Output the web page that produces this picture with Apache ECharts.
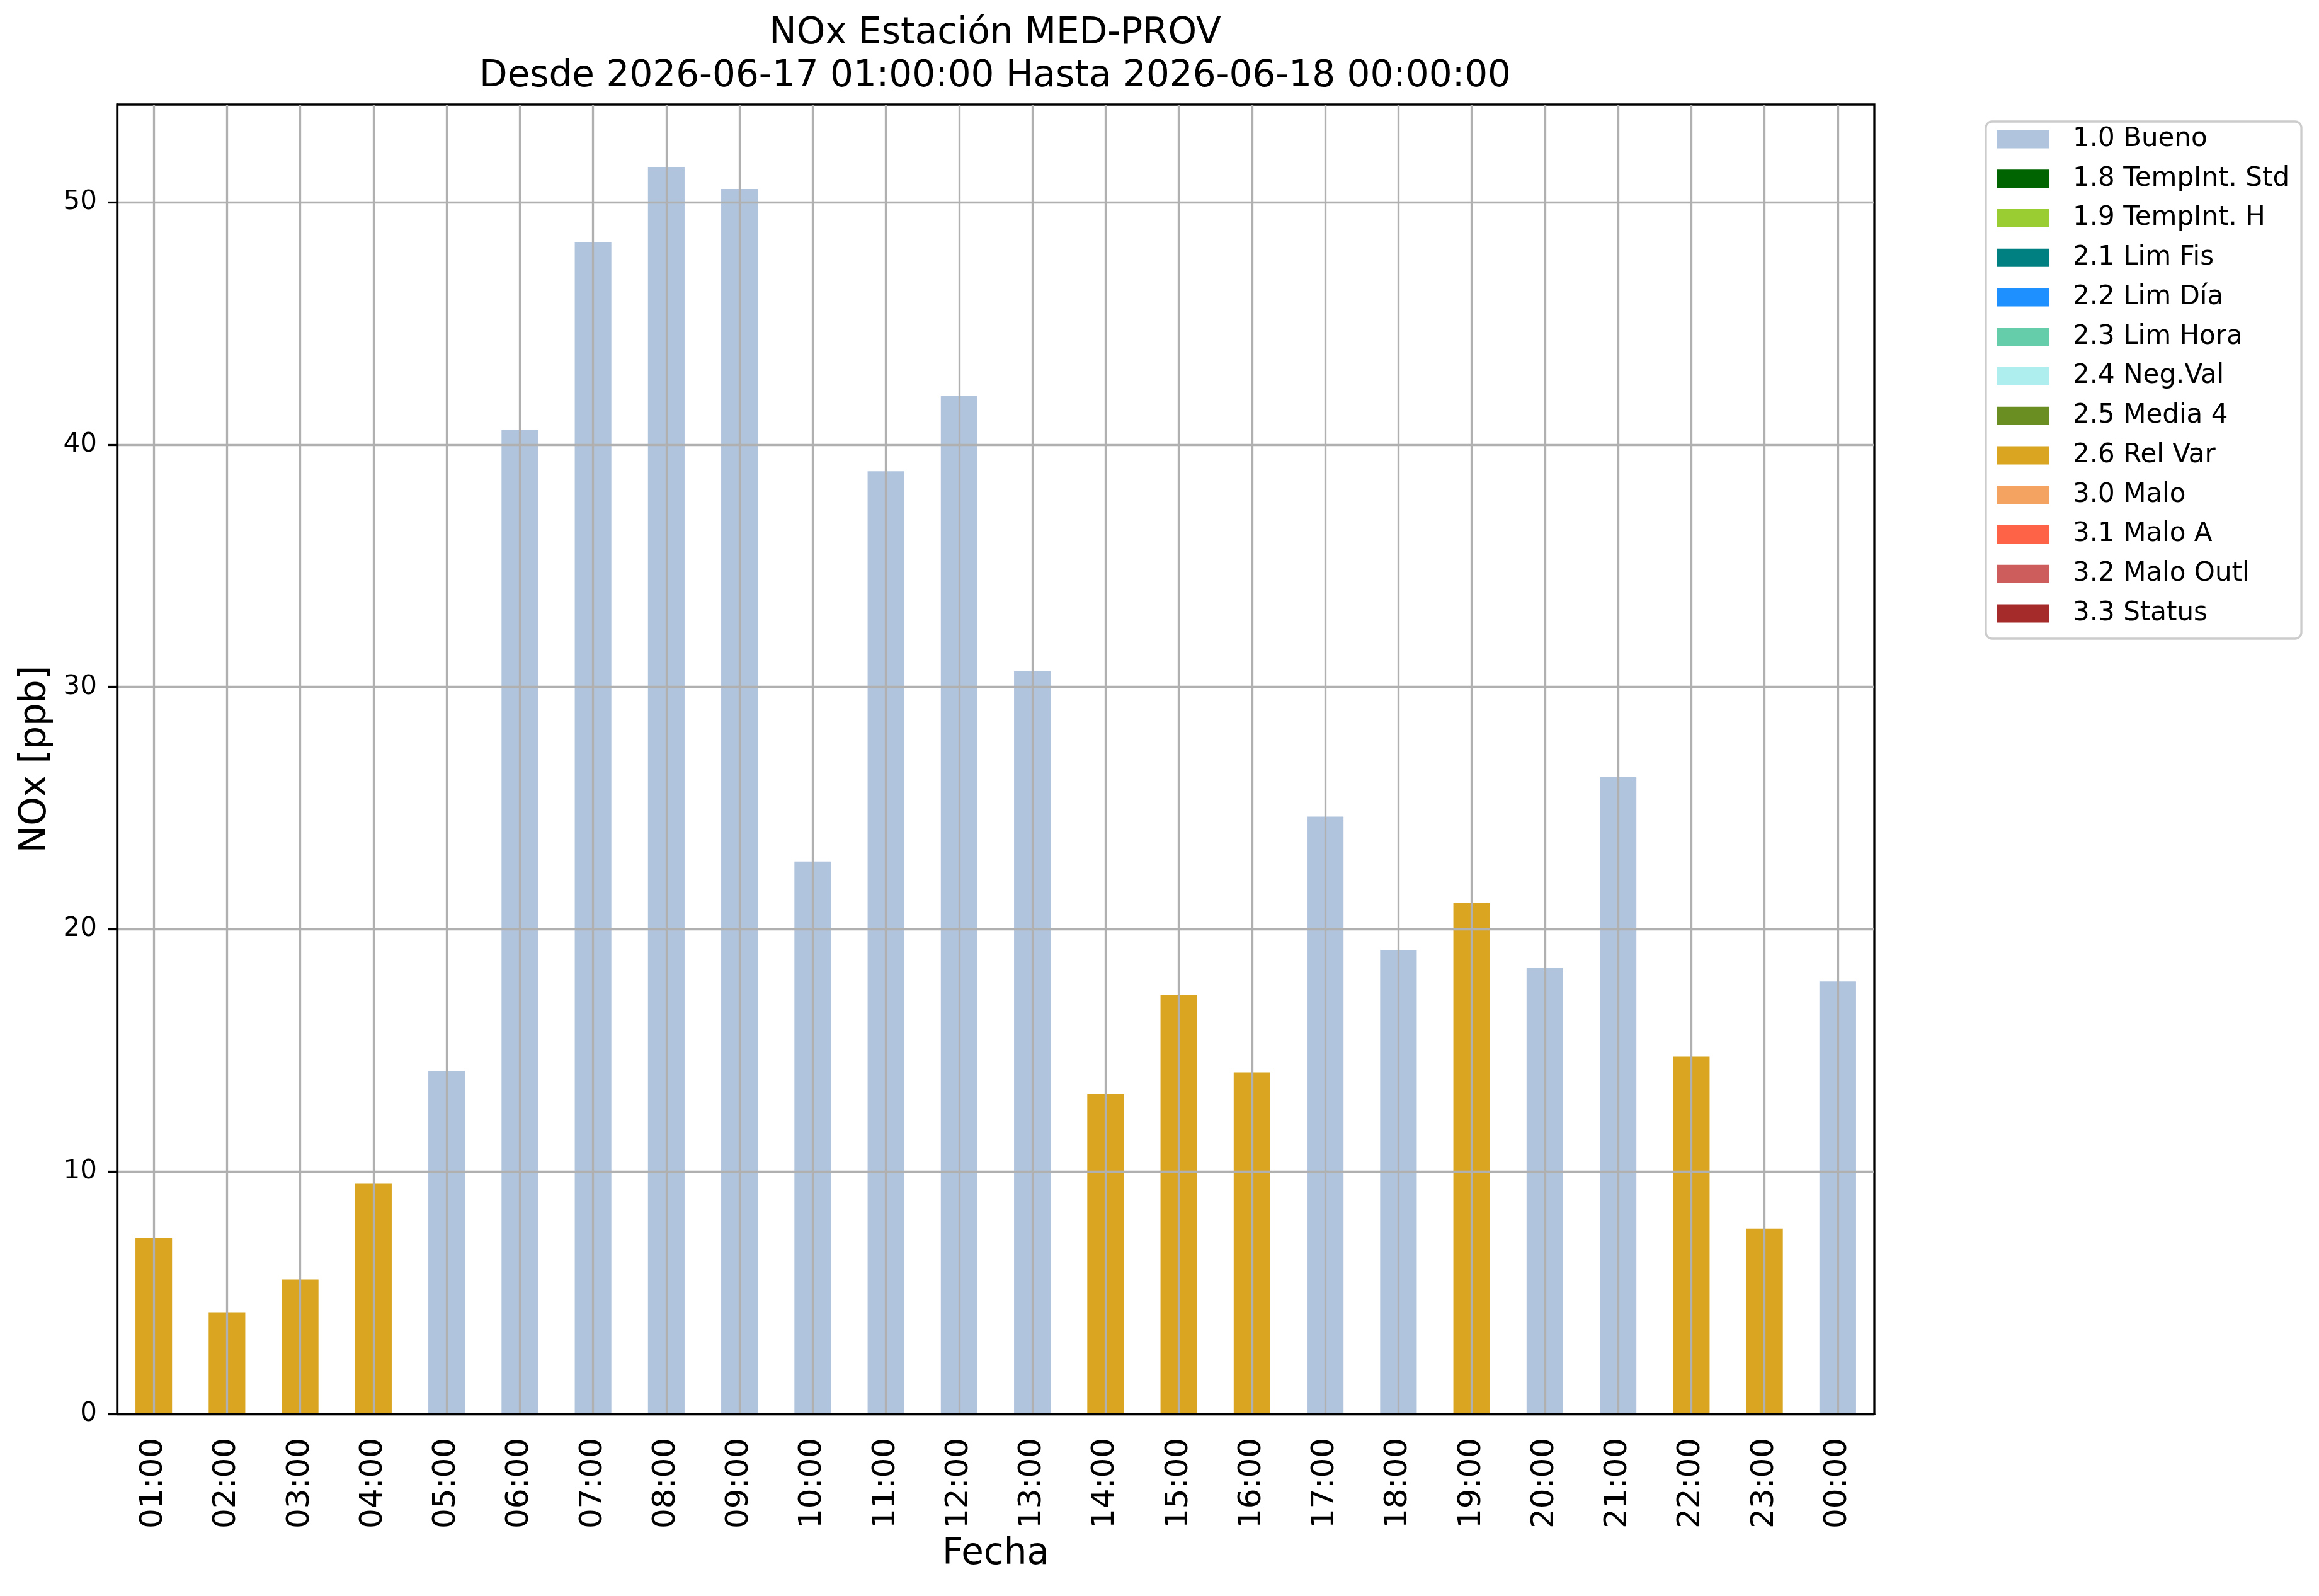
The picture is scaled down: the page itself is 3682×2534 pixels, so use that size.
<!DOCTYPE html>
<html lang="es">

<head>
  <meta charset="UTF-8">
  <title>NOx Estación MED-PROV</title>
  <style>
    html, body { margin: 0; padding: 0; background: #fff; }
    #main { width: 3682px; height: 2534px; }
  </style>
</head>

<body>
  <div id="main"></div>
  <script src="https://cdn.jsdelivr.net/npm/echarts@6/dist/echarts.min.js"></script>
  <script>
    // horas del periodo
    var hours = ['01:00', '02:00', '03:00', '04:00', '05:00', '06:00', '07:00', '08:00',
      '09:00', '10:00', '11:00', '12:00', '13:00', '14:00', '15:00', '16:00',
      '17:00', '18:00', '19:00', '20:00', '21:00', '22:00', '23:00', '00:00'];

    // NOx [ppb] por hora
    var nox = [7.25, 4.2, 5.55, 9.5, 14.15, 40.6, 48.35, 51.46,
      50.55, 22.8, 38.9, 42.0, 30.65, 13.2, 17.3, 14.1,
      24.65, 19.15, 21.1, 18.4, 26.3, 14.75, 7.65, 17.85];

    // bandera de validacion de cada hora
    var flag = ['2.6 Rel Var', '2.6 Rel Var', '2.6 Rel Var', '2.6 Rel Var', '1.0 Bueno', '1.0 Bueno', '1.0 Bueno', '1.0 Bueno',
      '1.0 Bueno', '1.0 Bueno', '1.0 Bueno', '1.0 Bueno', '1.0 Bueno', '2.6 Rel Var', '2.6 Rel Var', '2.6 Rel Var',
      '1.0 Bueno', '1.0 Bueno', '2.6 Rel Var', '1.0 Bueno', '1.0 Bueno', '2.6 Rel Var', '2.6 Rel Var', '1.0 Bueno'];

    var flagNames = ['1.0 Bueno', '1.8 TempInt. Std', '1.9 TempInt. H', '2.1 Lim Fis', '2.2 Lim Día',
      '2.3 Lim Hora', '2.4 Neg.Val', '2.5 Media 4', '2.6 Rel Var', '3.0 Malo', '3.1 Malo A',
      '3.2 Malo Outl', '3.3 Status'];
    var flagColors = ['#B0C4DE', '#006400', '#9ACD32', '#008080', '#1E90FF',
      '#66CDAA', '#AFEEEE', '#6B8E23', '#DAA520', '#F4A460', '#FF6347',
      '#CD5C5C', '#A52A2A'];

    var yTicks = [0, 10, 20, 30, 40, 50];
    var yMax = 54.03;

    var FONT = 'DejaVu Sans';
    var LW = 3.3;
    var GRID = '#b0b0b0';

    var myChart = echarts.init(document.getElementById('main'));

    var series = flagNames.map(function (name, k) {
      return {
        type: 'bar',
        name: name,
        stack: 'total',
        barWidth: '50%',
        animation: false,
        itemStyle: { color: flagColors[k] },
        data: nox.map(function (v, i) { return flag[i] === name ? v : null; })
      };
    });

    // rejilla vertical en el centro de cada hora, por encima de las barras
    series.push({
      type: 'line',
      name: 'grid-x',
      data: [],
      z: 5,
      silent: true,
      animation: false,
      markLine: {
        silent: true,
        animation: false,
        symbol: ['none', 'none'],
        label: { show: false },
        lineStyle: { color: GRID, width: LW, type: 'solid' },
        emphasis: { disabled: true },
        data: hours.map(function (h) { return { xAxis: h }; })
      }
    });

    var option = {
      backgroundColor: '#fff',
      textStyle: { fontFamily: FONT, color: '#000' },
      title: {
        text: 'NOx Estación MED-PROV\nDesde 2026-06-17 01:00:00 Hasta 2026-06-18 00:00:00',
        left: 1580,
        textAlign: 'center',
        top: 20,
        padding: 0,
        textStyle: { fontFamily: FONT, fontSize: 58, fontWeight: 'normal', color: '#000', lineHeight: 68 }
      },
      legend: {
        data: flagNames,
        orient: 'vertical',
        left: 3153,
        top: 193,
        itemWidth: 84,
        itemHeight: 29,
        itemGap: 20.75,
        icon: 'rect',
        padding: [7, 19, 19, 17],
        borderColor: '#cccccc',
        borderWidth: 3.3,
        borderRadius: 10,
        backgroundColor: 'rgba(255,255,255,0.8)',
        selectedMode: false,
        textStyle: { fontFamily: FONT, fontSize: 42, color: '#000', padding: [0, 0, 0, 32] }
      },
      grid: {
        left: 186,
        right: 706,
        top: 166,
        bottom: 289,
        show: true,
        borderColor: '#000',
        borderWidth: LW,
        backgroundColor: 'transparent'
      },
      xAxis: {
        type: 'category',
        data: hours,
        z: 10,
        name: 'Fecha',
        nameLocation: 'middle',
        nameGap: 194,
        nameTextStyle: { fontFamily: FONT, fontSize: 58, color: '#000' },
        axisLine: { lineStyle: { color: '#000', width: LW } },
        axisTick: { alignWithLabel: true, length: 14, lineStyle: { color: '#000', width: LW } },
        axisLabel: { rotate: 90, fontFamily: FONT, fontSize: 50, color: '#000', margin: 38 },
        splitLine: { show: false }
      },
      yAxis: {
        type: 'value',
        min: 0,
        max: yMax,
        interval: 10,
        z: 10,
        name: 'NOx [ppb]',
        nameLocation: 'middle',
        nameGap: 100,
        nameTextStyle: { fontFamily: FONT, fontSize: 58, color: '#000' },
        axisLine: { show: true, lineStyle: { color: '#000', width: LW } },
        axisTick: { show: true, length: 14, customValues: yTicks, lineStyle: { color: '#000', width: LW } },
        axisLabel: { fontFamily: FONT, fontSize: 42, color: '#000', margin: 32, customValues: yTicks },
        splitLine: { show: true, lineStyle: { color: GRID, width: LW } }
      },
      series: series
    };

    option && myChart.setOption(option);
  </script>
</body>

</html>
